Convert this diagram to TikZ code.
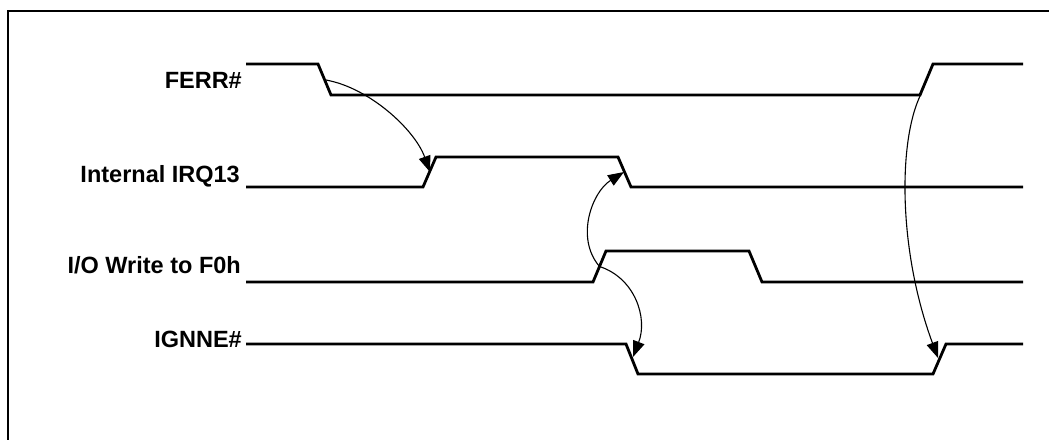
\documentclass[tikz,border=0pt]{standalone}
\usepackage{fontspec}
\setmainfont{Liberation Sans}
\usetikzlibrary{arrows.meta}
\begin{document}
\begin{tikzpicture}[x=1pt,y=-1pt,
  wave/.style={line width=2.8pt, line join=miter},
  frame/.style={line width=2.5pt},
  cause/.style={line width=1.1pt, -{Triangle[length=16pt,width=12pt]}},
  sig/.style={font=\fontsize{23.5}{26}\selectfont\bfseries, anchor=base east, inner sep=0pt}]
\useasboundingbox (0,0) rectangle (1049,439);
\draw[frame] (8,470) -- (8,11) -- (1080,11);
% labels
\node[sig] (lferr) at (242,88) {FERR\#};
\node[sig] (lirq) at (240,182) {Internal IRQ13};
\node[sig] (lio) at (241,273) {I/O Write to F0h};
\node[sig] (lign) at (242,347) {IGNNE\#};
% waveforms
\draw[wave] (246,64) -- (318,64) -- (331,95) -- (920,95) -- (933,64) -- (1023,64);
\draw[wave] (246,187) -- (423,187) -- (436,157) -- (618,157) -- (631,187) -- (1023,187);
\draw[wave] (246,282) -- (593,282) -- (606,251) -- (749,251) -- (762,282) -- (1023,282);
\draw[wave] (246,344) -- (626,344) -- (638,374) -- (933,374) -- (946,344) -- (1023,344);
% transition points
\coordinate (ferrF) at (326,80);
\coordinate (ferrR) at (921,94);
\coordinate (irqR) at (430,172);
\coordinate (irqF) at (624,172);
\coordinate (ioR) at (599.5,266.5);
\coordinate (ignF) at (633,357);
\coordinate (ignR) at (938,358);
% causal arrows
\draw[cause] (ferrF) .. controls (370,88) and (415,130) .. (irqR);
\draw[cause] (ioR) .. controls (575,238) and (592,192) .. (irqF);
\draw[cause] (ioR) .. controls (635,278) and (648,318) .. (ignF);
\draw[cause] (ferrR) .. controls (898,140) and (898,250) .. (ignR);
\end{tikzpicture}
\end{document}
